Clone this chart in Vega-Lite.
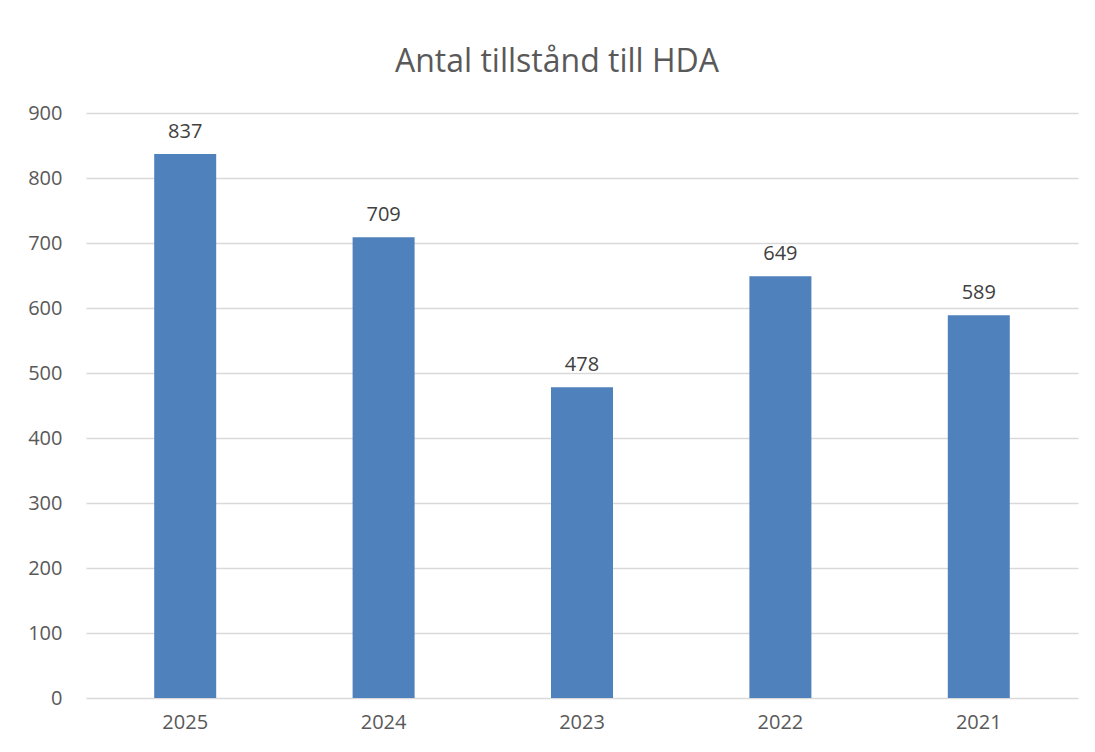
{
  "$schema": "https://vega.github.io/schema/vega-lite/v6.json",
  "width": 992,
  "height": 585,
  "autosize": {"type": "none"},
  "padding": {"left": 86, "top": 113, "right": 17, "bottom": 54},
  "background": "white",
  "config": {"view": {"stroke": null}, "font": "Open Sans"},
  "title": {
    "text": "Antal tillstånd till HDA",
    "fontSize": 32,
    "fontWeight": "normal",
    "color": "#595959",
    "font": "Open Sans",
    "anchor": "middle",
    "offset": 24,
    "dx": -25
  },
  "data": {
    "values": [
      {"year": "2025", "count": 837},
      {"year": "2024", "count": 709},
      {"year": "2023", "count": 478},
      {"year": "2022", "count": 649},
      {"year": "2021", "count": 589}
    ]
  },
  "encoding": {
    "x": {
      "field": "year",
      "type": "nominal",
      "sort": null,
      "scale": {"paddingInner": 0.6875, "paddingOuter": 0.34375},
      "axis": {
        "title": null,
        "labelAngle": 0,
        "domain": false,
        "ticks": false,
        "labelFontSize": 20,
        "labelColor": "#595959",
        "labelPadding": 14
      }
    },
    "y": {
      "field": "count",
      "type": "quantitative",
      "scale": {"domain": [0, 900]},
      "axis": {
        "title": null,
        "values": [0, 100, 200, 300, 400, 500, 600, 700, 800, 900],
        "domain": false,
        "ticks": false,
        "labelFontSize": 20,
        "labelColor": "#595959",
        "labelPadding": 24,
        "gridColor": "#D9D9D9",
        "gridWidth": 1.3
      }
    }
  },
  "layer": [
    {"mark": {"type": "bar", "color": "#4F81BD"}},
    {
      "mark": {"type": "text", "baseline": "bottom", "dy": -12, "fontSize": 20, "color": "#404040"},
      "encoding": {"text": {"field": "count", "type": "quantitative"}}
    }
  ]
}
